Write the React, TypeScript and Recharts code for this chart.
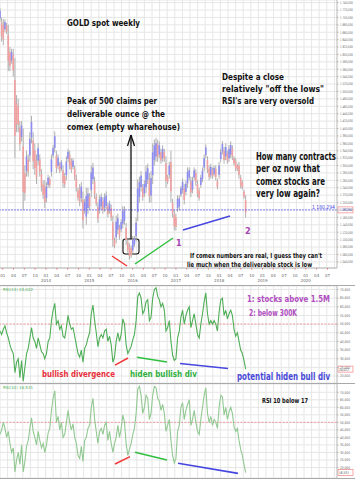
import React from 'react';
import {
  ComposedChart,
  Bar,
  Line,
  XAxis,
  YAxis,
  CartesianGrid,
  ReferenceLine,
  ReferenceArea,
} from 'recharts';

// biweekly bars, first one early Dec 2012
const START = 2012.938;
const STEP = 14 / 365.25;
const X_DOMAIN: [number, number] = [2012.938, 2020.72];

const priceLow = [
  1690, 1635,
  1625, 1660, 1655, 1555, 1555, 1575, 1540, 1320, 1390, 1390, 1340, 1365, 1180, 1205, 1270, 1270, 1310, 1360, 1290, 1275, 1250, 1300, 1270, 1230, 1210, 1185,
  1200, 1240, 1240, 1270, 1320, 1335, 1280, 1290, 1280, 1285, 1240, 1240, 1260, 1310, 1290, 1280, 1290, 1260, 1230, 1205, 1190, 1200, 1130, 1170, 1140, 1170,
  1180, 1215, 1250, 1210, 1190, 1145, 1170, 1180, 1170, 1175, 1180, 1160, 1170, 1150, 1080, 1077, 1090, 1115, 1100, 1120, 1130, 1140, 1085, 1065, 1046, 1050,
  1060, 1080, 1095, 1150, 1200, 1230, 1205, 1215, 1225, 1250, 1200, 1200, 1250, 1300, 1310, 1310, 1320, 1305, 1310, 1310, 1240, 1250, 1265, 1200, 1160, 1125,
  1125, 1175, 1180, 1215, 1225, 1195, 1220, 1240, 1260, 1215, 1225, 1260, 1245, 1215, 1205, 1240, 1255, 1285, 1320, 1280, 1260, 1265, 1265, 1270, 1260, 1236,
  1265, 1310, 1330, 1305, 1315, 1305, 1310, 1320, 1315, 1300, 1285, 1285, 1265, 1238, 1235, 1210, 1160,
];

const priceHigh = [
  1725, 1700,
  1695, 1695, 1685, 1680, 1620, 1615, 1615, 1590, 1490, 1480, 1420, 1420, 1400, 1300, 1340, 1330, 1390, 1434, 1390, 1360, 1330, 1360, 1330, 1290, 1260, 1260,
  1255, 1275, 1270, 1330, 1355, 1392, 1340, 1330, 1310, 1315, 1300, 1280, 1325, 1345, 1340, 1320, 1320, 1300, 1275, 1240, 1250, 1255, 1230, 1210, 1240, 1240,
  1225, 1300, 1307, 1270, 1225, 1200, 1220, 1225, 1215, 1225, 1230, 1200, 1205, 1195, 1165, 1105, 1165, 1170, 1140, 1155, 1190, 1190, 1145, 1100, 1090, 1085,
  1110, 1110, 1160, 1263, 1270, 1285, 1250, 1260, 1300, 1305, 1280, 1285, 1360, 1370, 1375, 1370, 1365, 1345, 1355, 1345, 1325, 1275, 1310, 1340, 1210, 1180,
  1170, 1220, 1220, 1245, 1265, 1250, 1260, 1295, 1295, 1270, 1270, 1295, 1290, 1260, 1240, 1275, 1295, 1330, 1357, 1325, 1300, 1305, 1295, 1300, 1300, 1265,
  1310, 1345, 1366, 1350, 1360, 1340, 1355, 1365, 1355, 1325, 1320, 1305, 1310, 1275, 1260, 1235, 1220,
];

const rsi14 = [
  46, 44, 47, 49, 45, 42, 38, 35, 33, 22,
  28, 30, 19, 29, 17, 25, 33, 36, 42, 48,
  42, 40, 36, 42, 38, 34, 33, 30, 33, 40,
  42, 52, 58, 62, 50, 52, 47, 49, 43, 42,
  48, 55, 50, 47, 48, 43, 38, 33, 31, 35,
  28, 36, 38, 42, 45, 56, 61, 52, 45, 37,
  42, 44, 42, 46, 47, 40, 43, 38, 28, 31,
  40, 45, 40, 44, 53, 50, 38, 33, 35, 37,
  41, 44, 52, 66, 68, 65, 56, 58, 63, 64,
  52, 54, 65, 70, 71, 66, 64, 60, 62, 58,
  46, 48, 52, 40, 32, 29, 30, 42, 46, 54,
  58, 50, 55, 58, 60, 48, 52, 56, 50, 44,
  42, 50, 56, 63, 68, 56, 50, 52, 50, 52,
  50, 46, 57, 64, 65, 55, 58, 53, 56, 58,
  55, 47, 43, 45, 40, 35, 33, 29, 24.02,
];

const rsi10 = [
  42, 45, 50, 46, 40, 44, 36, 30, 33, 17,
  25, 30, 22, 35, 17, 24, 34, 38, 46, 53,
  44, 40, 35, 44, 38, 33, 36, 30, 35, 43,
  46, 58, 66, 71, 50, 54, 45, 50, 40, 42,
  50, 58, 50, 45, 49, 40, 36, 28, 26, 34,
  24, 38, 40, 46, 48, 60, 66, 52, 44, 36,
  44, 46, 42, 48, 50, 38, 44, 36, 30, 36,
  40, 48, 40, 46, 55, 50, 36, 28, 32, 36,
  42, 46, 56, 72, 74, 68, 56, 60, 68, 66,
  52, 56, 68, 74, 73, 66, 64, 58, 62, 56,
  44, 48, 52, 38, 28, 23, 26, 44, 48, 60,
  63, 52, 58, 62, 65, 48, 52, 58, 50, 44,
  42, 52, 60, 68, 73, 56, 50, 54, 48, 52,
  50, 46, 60, 68, 67, 55, 60, 52, 57, 60,
  56, 47, 44, 46, 38, 32, 28, 22, 16.53,
];

const quarterTicks = [
  2013, 2013.25, 2013.5, 2013.75, 2014, 2014.25, 2014.5, 2014.75,
  2015, 2015.25, 2015.5, 2015.75, 2016, 2016.25, 2016.5, 2016.75,
  2017, 2017.25, 2017.5, 2017.75, 2018, 2018.25, 2018.5, 2018.75,
  2019, 2019.25, 2019.5, 2019.75, 2020, 2020.25, 2020.5,
];
const monthLabels = ['01', '04', '07', '10'];

const priceTicks = [
  1040, 1060, 1080, 1100, 1120, 1140, 1160, 1180, 1200, 1220, 1240, 1260, 1280, 1300, 1320, 1340, 1360, 1380,
  1400, 1420, 1440, 1460, 1480, 1500, 1520, 1540, 1560, 1580, 1600, 1620, 1640, 1660, 1680, 1700, 1720, 1740,
];
const rsiTicks = [20, 25, 30, 35, 40, 45, 50, 55, 60, 65, 70];

const LAST_PRICE = 1180.294;
const LAST_RSI14 = 24.022;
const LAST_RSI10 = 16.531;

const priceData = priceLow.map((lo, i) => ({
  t: START + i * STEP,
  range: [lo, priceHigh[i]],
  up: i === 0 || lo + priceHigh[i] >= priceLow[i - 1] + priceHigh[i - 1],
}));
const rsi14Data = rsi14.map((v, i) => ({ t: START + i * STEP, v }));
const rsi10Data = rsi10.map((v, i) => ({ t: START + i * STEP, v }));

// hand-drawn annotations, in data units
const priceSegments = [
  { color: '#f03a3a', pts: [{ x: 2015.524, y: 1055.8 }, { x: 2015.871, y: 1028.8 }] },
  { color: '#2fbf3f', pts: [{ x: 2016.055, y: 1034.2 }, { x: 2016.933, y: 1104.4 }] },
  { color: '#4646e0', pts: [{ x: 2017.164, y: 1126 }, { x: 2018.25, y: 1163.8 }] },
];
const arrowSegments = [
  [{ x: 2015.963, y: 1101.7 }, { x: 2015.963, y: 1382.5 }],
  [{ x: 2015.882, y: 1352.8 }, { x: 2015.963, y: 1382.5 }],
  [{ x: 2016.044, y: 1352.8 }, { x: 2015.963, y: 1382.5 }],
];
const rsi14Segments = [
  { color: '#f03a3a', pts: [{ x: 2015.594, y: 26.3 }, { x: 2015.894, y: 30.4 }] },
  { color: '#2fbf3f', pts: [{ x: 2016.102, y: 30.9 }, { x: 2016.794, y: 28.1 }] },
  { color: '#4646e0', pts: [{ x: 2017.095, y: 27.3 }, { x: 2018.203, y: 24.4 }] },
];
const rsi10Segments = [
  { color: '#f03a3a', pts: [{ x: 2015.594, y: 22.3 }, { x: 2015.94, y: 27.2 }] },
  { color: '#2fbf3f', pts: [{ x: 2016.055, y: 30.1 }, { x: 2016.794, y: 25.0 }] },
  { color: '#4646e0', pts: [{ x: 2017.049, y: 22.8 }, { x: 2018.434, y: 16.1 }] },
];

const W = 355;
const AXIS_W = 18;
const gridX = Array.from({ length: 45 }, (_, k) => k * 7.6);
const NARROW = "'Liberation Sans Narrow', 'DejaVu Sans Condensed', sans-serif";

function Candle(props: any) {
  const { x, y, width, height, payload } = props;
  if (x == null || y == null) return null;
  const top = Math.min(y, y + height);
  const h = Math.abs(height);
  const cx = x + width / 2;
  return (
    <g>
      <line x1={cx} x2={cx} y1={top} y2={top + h} stroke="#a6a6a6" strokeWidth={0.9} />
      <rect
        x={x}
        y={top + h * 0.22}
        width={width}
        height={Math.max(h * 0.56, 0.8)}
        fill={payload.up ? '#8c8cf2' : '#f2a0a0'}
      />
    </g>
  );
}

// tiny right-axis label squeezed into the 18px axis strip
const axisTick = (fmt: (v: number) => string, len: number) => (p: any) => (
  <text
    x={p.x - 0.5}
    y={p.y + 1.3}
    fontSize={3.6}
    fill="#666"
    fontFamily={NARROW}
    textLength={len}
    lengthAdjust="spacingAndGlyphs"
  >
    {fmt(p.payload.value)}
  </text>
);

const fmtPrice = (v: number) => `1 ${String(v - 1000).padStart(3, '0')},000`;
const fmtRsi = (v: number) => `${v},000`;

function DateTick(props: any) {
  const { x, y, payload } = props;
  const v = payload.value;
  const year = Math.floor(v + 0.001);
  const q = Math.round((v - year) * 4);
  return (
    <g>
      <text x={x} y={y + 5} textAnchor="middle" fontSize={4} fill="#666" fontFamily="DejaVu Sans">
        {monthLabels[q]}
      </text>
      {q === 0 && year >= 2014 && (
        <text x={x} y={y + 10} textAnchor="middle" fontSize={4} fill="#666" fontFamily="DejaVu Sans">
          {year}
        </text>
      )}
    </g>
  );
}

const valueBox = (text: string, color: string, len: number) => (p: any) => {
  const vb = p.viewBox;
  if (!vb) return null;
  const bx = vb.x + vb.width + 1;
  return (
    <g>
      <rect x={bx} y={vb.y - 3} width={15} height={6} fill="#fff" stroke="#f07070" strokeWidth={0.6} />
      <text
        x={bx + 1}
        y={vb.y + 1.4}
        fontSize={3.6}
        fill={color}
        fontFamily={NARROW}
        textLength={len}
        lengthAdjust="spacingAndGlyphs"
      >
        {text}
      </text>
    </g>
  );
};

const priceLabel = (p: any) => {
  const vb = p.viewBox;
  if (!vb) return null;
  return (
    <g>
      <text
        x={vb.x + vb.width - 25}
        y={vb.y - 0.6}
        fontSize={5.5}
        fill="#4a4ae8"
        fontFamily={NARROW}
        textLength={23}
        lengthAdjust="spacingAndGlyphs"
      >
        1 180,294
      </text>
      {valueBox('1 180,294', '#4a4ae8', 12.5)(p)}
    </g>
  );
};

function RsiPanel({ data, height, domain, color, segments, last }: any) {
  return (
    <ComposedChart width={W} height={height} data={data} margin={{ top: 0, right: 0, bottom: 0, left: 0 }}>
      <CartesianGrid stroke="#e6e6e6" verticalPoints={gridX} />
      <XAxis dataKey="t" type="number" domain={X_DOMAIN} allowDataOverflow hide />
      <YAxis
        orientation="right"
        width={AXIS_W}
        domain={domain}
        allowDataOverflow
        ticks={rsiTicks}
        interval={0}
        tick={axisTick(fmtRsi, 10)}
        tickSize={1.5}
        axisLine={{ stroke: '#b5b5b5' }}
        tickLine={{ stroke: '#b5b5b5' }}
      />
      <ReferenceLine y={50} stroke="#f08a8a" strokeDasharray="2 1.5" strokeWidth={0.8} />
      <Line dataKey="v" stroke={color} strokeWidth={1.1} dot={false} isAnimationActive={false} />
      {segments.map((s: any, i: number) => (
        <ReferenceLine key={i} segment={s.pts} stroke={s.color} strokeWidth={1.6} ifOverflow="visible" />
      ))}
      <ReferenceLine
        y={last}
        stroke="none"
        ifOverflow="visible"
        label={valueBox(last.toFixed(3).replace('.', ',').slice(0, 6), '#555', 10)}
      />
    </ComposedChart>
  );
}

const notes = [
  { t: 'GOLD spot weekly', x: 67, y: 25.5, w: 73, s: 9.5, c: '#111' },
  { t: 'Peak of 500 claims per', x: 67, y: 103.5, w: 90, s: 9.5, c: '#111' },
  { t: 'deliverable ounce @ the', x: 67, y: 116.5, w: 98, s: 9.5, c: '#111' },
  { t: 'comex (empty wharehouse)', x: 67, y: 129.5, w: 113, s: 9.5, c: '#111' },
  { t: 'Despite a close', x: 222, y: 79.5, w: 62, s: 9.5, c: '#111' },
  { t: 'relatively "off the lows"', x: 222, y: 92, w: 102, s: 9.5, c: '#111' },
  { t: "RSI's are very oversold", x: 222, y: 104, w: 92, s: 9.5, c: '#111' },
  { t: 'How many contracts', x: 256, y: 159.5, w: 80, s: 9.6, c: '#111' },
  { t: 'per oz now that', x: 256, y: 172, w: 64, s: 9.6, c: '#111' },
  { t: 'comex stocks are', x: 256, y: 184.5, w: 69, s: 9.6, c: '#111' },
  { t: 'very low again?', x: 256, y: 197, w: 64, s: 9.6, c: '#111' },
  { t: "If comex numbers are real, I guess they can't", x: 190, y: 257.5, w: 132, s: 7, c: '#111' },
  { t: 'lie much when the deliverable stock is low', x: 187, y: 267, w: 125, s: 7, c: '#111' },
  { t: '1', x: 176, y: 246, w: 0, s: 9, c: '#a445b0' },
  { t: '2', x: 245, y: 234, w: 0, s: 9, c: '#a445b0' },
  { t: '1: stocks above 1.5M', x: 247, y: 301.5, w: 83, s: 9.5, c: '#b04cc0' },
  { t: '2: below 300K', x: 249, y: 315.5, w: 48, s: 9.5, c: '#b04cc0' },
  { t: 'bullish divergence', x: 42, y: 376.5, w: 73, s: 9.5, c: '#e8303a' },
  { t: 'hiden bullish div', x: 130, y: 376.5, w: 67, s: 9.5, c: '#2fb040' },
  { t: 'potential hiden bull div', x: 237, y: 379.5, w: 93, s: 9.8, c: '#4a4ad8' },
  { t: 'RSI 10 below 17', x: 262, y: 402.5, w: 46, s: 7, c: '#111' },
];

export default function App() {
  return (
    <div style={{ position: 'absolute', left: 0, top: 0, width: W, height: 480, background: '#fff', overflow: 'hidden' }}>
      <div style={{ position: 'absolute', left: 0, top: 0 }}>
        <ComposedChart width={W} height={285} data={priceData} margin={{ top: 0, right: 0, bottom: 0, left: 0 }}>
          <CartesianGrid stroke="#e6e6e6" verticalPoints={gridX} />
          <XAxis
            dataKey="t"
            type="number"
            domain={X_DOMAIN}
            allowDataOverflow
            ticks={quarterTicks}
            interval={0}
            height={17}
            tick={<DateTick />}
            tickSize={1.5}
            axisLine={{ stroke: '#b5b5b5' }}
            tickLine={{ stroke: '#e07a7a' }}
          />
          <YAxis
            orientation="right"
            width={AXIS_W}
            domain={[1023.4, 1747]}
            allowDataOverflow
            ticks={priceTicks}
            interval={0}
            tick={axisTick(fmtPrice, 13)}
            tickSize={1.5}
            axisLine={{ stroke: '#b5b5b5' }}
            tickLine={{ stroke: '#b5b5b5' }}
          />
          <ReferenceLine
            y={LAST_PRICE}
            stroke="#6a6af0"
            strokeDasharray="2 1"
            strokeWidth={0.8}
            label={priceLabel}
          />
          <Bar dataKey="range" shape={Candle} barSize={1.6} isAnimationActive={false} />
          <ReferenceArea
            x1={2015.778}
            x2={2016.148}
            y1={1061}
            y2={1101.7}
            ifOverflow="visible"
            shape={(p: any) => (
              <rect x={p.x} y={p.y} width={p.width} height={p.height} rx={2.5} fill="none" stroke="#111" strokeWidth={1.1} />
            )}
          />
          {arrowSegments.map((seg, i) => (
            <ReferenceLine key={'a' + i} segment={seg} stroke="#111" strokeWidth={1.3} ifOverflow="visible" />
          ))}
          {priceSegments.map((s, i) => (
            <ReferenceLine key={'p' + i} segment={s.pts} stroke={s.color} strokeWidth={1.5} ifOverflow="visible" />
          ))}
        </ComposedChart>
      </div>
      <div style={{ position: 'absolute', left: 0, top: 285, width: W, borderTop: '1px solid #a9a9a9' }} />
      <div style={{ position: 'absolute', left: 0, top: 286 }}>
        <RsiPanel data={rsi14Data} height={97} domain={[16, 72]} color="#4fae57" segments={rsi14Segments} last={LAST_RSI14} />
      </div>
      <div style={{ position: 'absolute', left: 0, top: 383, width: W, borderTop: '1px solid #a9a9a9' }} />
      <div style={{ position: 'absolute', left: 0, top: 384 }}>
        <RsiPanel data={rsi10Data} height={94} domain={[13, 75.5]} color="#92c992" segments={rsi10Segments} last={LAST_RSI10} />
      </div>
      <div style={{ position: 'absolute', left: 0, top: 478, width: W, borderTop: '1px solid #a9a9a9' }} />
      <svg width={W} height={480} style={{ position: 'absolute', left: 0, top: 0, pointerEvents: 'none' }}>
        <text x={3} y={291} fontSize={4} fill="#4fae57" fontFamily="DejaVu Sans">RSI(14) 24,022</text>
        <text x={3} y={389} fontSize={4} fill="#4fae57" fontFamily="DejaVu Sans">RSI(10) 16,531</text>
        {notes.map((n, i) => (
          <text
            key={i}
            x={n.x}
            y={n.y}
            fontSize={n.s}
            fill={n.c}
            fontWeight={700}
            fontFamily={NARROW}
            {...(n.w ? { textLength: n.w, lengthAdjust: 'spacingAndGlyphs' } : {})}
          >
            {n.t}
          </text>
        ))}
      </svg>
    </div>
  );
}
